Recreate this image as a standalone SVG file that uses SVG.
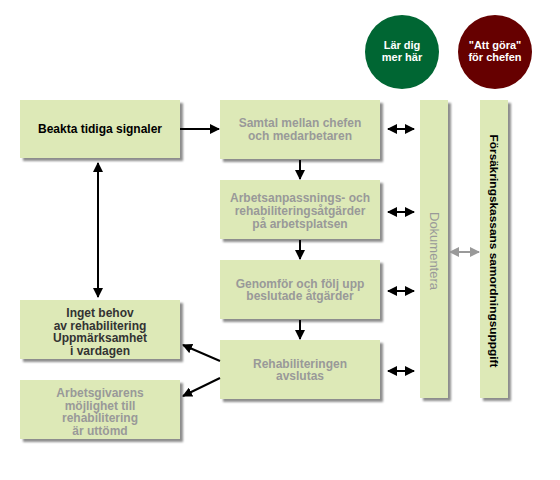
<svg xmlns="http://www.w3.org/2000/svg" width="560" height="480" viewBox="0 0 560 480">
<defs>
<filter id="sh" x="-10%" y="-10%" width="130%" height="130%">
<feGaussianBlur in="SourceAlpha" stdDeviation="1.2"/>
<feOffset dx="3" dy="3" result="b"/>
<feComponentTransfer><feFuncA type="linear" slope="0.45"/></feComponentTransfer>
<feMerge><feMergeNode/><feMergeNode in="SourceGraphic"/></feMerge>
</filter>
<marker id="ah" viewBox="0 0 10 10" refX="9" refY="5" markerWidth="10" markerHeight="10" markerUnits="userSpaceOnUse" orient="auto-start-reverse">
<path d="M0,0 L10,5 L0,10 z" fill="#000"/>
</marker>
<marker id="ahg" viewBox="0 0 10 10" refX="9" refY="5" markerWidth="10" markerHeight="10" markerUnits="userSpaceOnUse" orient="auto-start-reverse">
<path d="M0,0 L10,5 L0,10 z" fill="#999"/>
</marker>
</defs>
<style>
.box{fill:#dde9b7;filter:url(#sh);}
.t{font-family:"Liberation Sans",Arial,sans-serif;font-size:12px;font-weight:bold;text-anchor:middle;fill:#999;}
.dk{fill:#000;}
.dg{fill:#333;}
.ct{font-family:"Liberation Sans",Arial,sans-serif;font-size:11px;font-weight:bold;text-anchor:middle;fill:#fff;}
.ln{stroke:#000;stroke-width:2;fill:none;}
.lg{stroke:#999;stroke-width:2;fill:none;}
</style>
<rect width="560" height="480" fill="#fff"/>
<g id="circle-lar">
<circle cx="402" cy="52" r="37" fill="#006633"/>
<text class="ct" x="402" y="49">Lär dig</text>
<text class="ct" x="402" y="61">mer här</text>
</g>
<g id="circle-attgora">
<circle cx="495" cy="52" r="37" fill="#660000"/>
<text class="ct" x="495" y="49">"Att göra"</text>
<text class="ct" x="495" y="61">för chefen</text>
</g>
<g id="beakta">
<rect class="box" x="20" y="100" width="160" height="58"/>
<text class="t dk" x="100" y="133">Beakta tidiga signaler</text>
</g>
<g id="samtal">
<rect class="box" x="220" y="100" width="160" height="59"/>
<text class="t" x="300" y="127">Samtal mellan chefen</text>
<text class="t" x="300" y="140">och medarbetaren</text>
</g>
<g id="arbetsanpassning">
<rect class="box" x="220" y="180" width="160" height="59"/>
<text class="t" x="300" y="202">Arbetsanpassnings- och</text>
<text class="t" x="300" y="215">rehabiliteringsåtgärder</text>
<text class="t" x="300" y="228">på arbetsplatsen</text>
</g>
<g id="genomfor">
<rect class="box" x="220" y="260" width="160" height="59"/>
<text class="t" x="300" y="288">Genomför och följ upp</text>
<text class="t" x="300" y="300">beslutade åtgärder</text>
</g>
<g id="avslutas">
<rect class="box" x="220" y="340" width="160" height="59"/>
<text class="t" x="300" y="368">Rehabiliteringen</text>
<text class="t" x="300" y="380">avslutas</text>
</g>
<g id="inget-behov">
<rect class="box" x="20" y="300" width="160" height="59"/>
<text class="t dg" x="100" y="317">Inget behov</text>
<text class="t dg" x="100" y="330">av rehabilitering</text>
<text class="t dg" x="100" y="342">Uppmärksamhet</text>
<text class="t dg" x="100" y="355">i vardagen</text>
</g>
<g id="arbetsgivarens">
<rect class="box" x="20" y="380" width="160" height="59"/>
<text class="t" x="100" y="397">Arbetsgivarens</text>
<text class="t" x="100" y="410">möjlighet till</text>
<text class="t" x="100" y="422">rehabilitering</text>
<text class="t" x="100" y="435">är uttömd</text>
</g>
<g id="dokumentera">
<rect class="box" x="420" y="100" width="28" height="298"/>
<text transform="translate(430,251) rotate(90)" font-family="'Liberation Sans',Arial,sans-serif" font-size="12" fill="#999" text-anchor="middle" textLength="78" lengthAdjust="spacingAndGlyphs">Dokumentera</text>
</g>
<g id="forsakringskassan">
<rect class="box" x="480" y="100" width="28" height="298"/>
<text transform="translate(490,251) rotate(90)" font-family="'Liberation Sans',Arial,sans-serif" font-size="11" font-weight="bold" fill="#000" text-anchor="middle" textLength="233" lengthAdjust="spacingAndGlyphs">Försäkringskassans samordningsuppgift</text>
</g>
<g id="connectors">
<line class="ln" x1="180" y1="129" x2="219" y2="129" marker-end="url(#ah)"/>
<line class="ln" x1="300" y1="160" x2="300" y2="179" marker-end="url(#ah)"/>
<line class="ln" x1="300" y1="240" x2="300" y2="259" marker-end="url(#ah)"/>
<line class="ln" x1="300" y1="320" x2="300" y2="339" marker-end="url(#ah)"/>
<line class="ln" x1="388" y1="129" x2="414" y2="129" marker-start="url(#ah)" marker-end="url(#ah)"/>
<line class="ln" x1="388" y1="212" x2="414" y2="212" marker-start="url(#ah)" marker-end="url(#ah)"/>
<line class="ln" x1="388" y1="291" x2="414" y2="291" marker-start="url(#ah)" marker-end="url(#ah)"/>
<line class="ln" x1="388" y1="371" x2="414" y2="371" marker-start="url(#ah)" marker-end="url(#ah)"/>
<line class="lg" x1="450" y1="252" x2="479" y2="252" marker-start="url(#ahg)" marker-end="url(#ahg)"/>
<line class="ln" x1="98" y1="163" x2="98" y2="297" marker-start="url(#ah)" marker-end="url(#ah)"/>
<line class="ln" x1="220" y1="361" x2="183" y2="345" marker-end="url(#ah)"/>
<line class="ln" x1="220" y1="378" x2="183" y2="396" marker-end="url(#ah)"/>
</g>
</svg>
